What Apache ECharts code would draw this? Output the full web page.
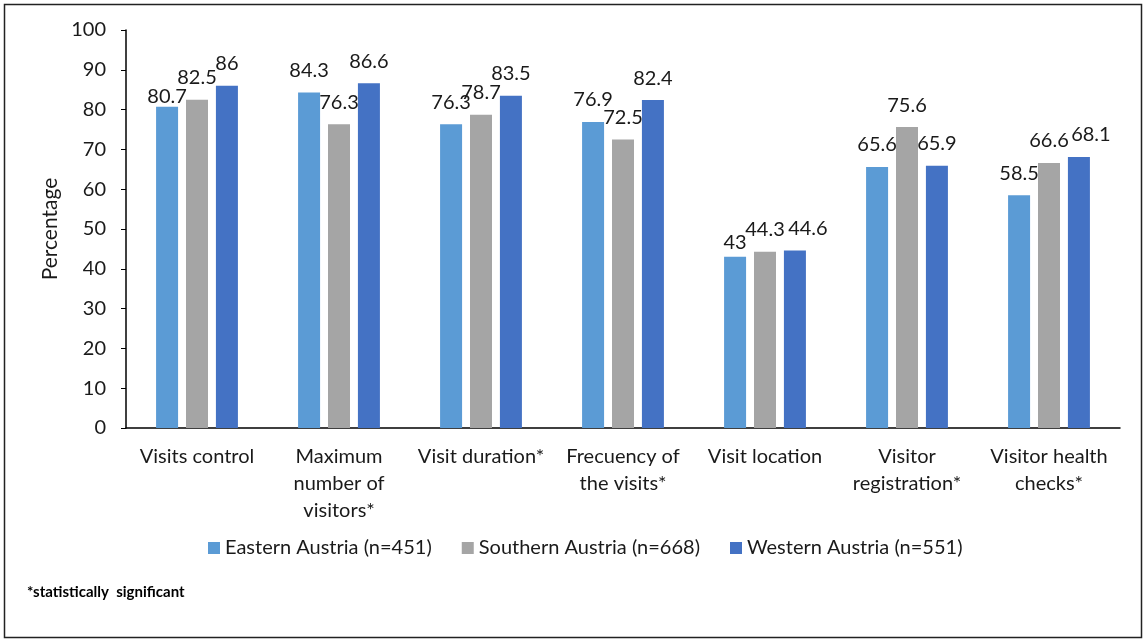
<!DOCTYPE html>
<html><head><meta charset="utf-8">
<script src="https://cdn.jsdelivr.net/npm/echarts@6/dist/echarts.min.js"></script>
<style>html,body{margin:0;padding:0;background:#fff}#c{width:1147px;height:639px}</style>
</head><body><div id="c"></div>
<script>
const categories = ["Visits control", "Maximum\nnumber of\nvisitors*", "Visit duration*", "Frecuency of\nthe visits*", "Visit location", "Visitor\nregistration*", "Visitor health\nchecks*"];
const eastern = [80.7, 84.3, 76.3, 76.9, 43, 65.6, 58.5];
const southern = [82.5, 76.3, 78.7, 72.5, 44.3, 75.6, 66.6];
const western = [86, 86.6, 83.5, 82.4, 44.6, 65.9, 68.1];
const seriesNames = ["Eastern Austria (n=451)", "Southern Austria (n=668)", "Western Austria (n=551)"];
const yTicks = {min: 0, max: 100, interval: 10};

// label nudges (like the reference's overlap-avoiding label placement): [series, index, dx, dy]
const labelNudges = [[0, 0, 0, 12], [0, 4, 0, 8], [2, 4, 13, 0], [2, 6, 12, 0]];

const FONT = "Lato";
const TXT = '#1a1a1a';
const chart = echarts.init(document.getElementById('c'), null, {renderer: 'canvas'});
const lbl = {show: true, position: 'top', distance: 12, color: TXT, fontSize: 20, fontFamily: FONT};
function mk(si, data, color) {
  const items = data.map((v, i) => {
    const n = labelNudges.find(a => a[0] === si && a[1] === i);
    return n ? {value: v, label: {offset: [n[2], n[3]]}} : v;
  });
  return {name: seriesNames[si], type: 'bar', data: items, barWidth: 22, barGap: '36%', itemStyle: {color}, label: lbl};
}
chart.setOption({
  animation: false,
  textStyle: {fontFamily: FONT},
  grid: {left: 126, right: 27, top: 30, bottom: 211, containLabel: false},
  legend: {
    data: seriesNames, top: 533, left: 203, itemWidth: 12, itemHeight: 12, itemGap: 30,
    icon: 'rect', textStyle: {fontSize: 20, color: TXT, fontFamily: FONT}
  },
  xAxis: {
    type: 'category', data: categories,
    axisLine: {lineStyle: {color: '#000', width: 1.5}},
    axisTick: {show: false},
    axisLabel: {fontSize: 20, color: TXT, lineHeight: 27, margin: 15, interval: 0, fontFamily: FONT}
  },
  yAxis: {
    type: 'value', min: yTicks.min, max: yTicks.max, interval: yTicks.interval,
    name: 'Percentage', nameLocation: 'middle', nameGap: 64, nameRotate: 90,
    nameTextStyle: {fontSize: 21, color: TXT, fontFamily: FONT},
    axisLine: {show: true, lineStyle: {color: '#000', width: 1.5}},
    axisTick: {show: true, length: 5, lineStyle: {color: '#000'}},
    splitLine: {show: false},
    axisLabel: {fontSize: 20, color: TXT, margin: 20, fontFamily: FONT}
  },
  graphic: [
    {type: 'rect', shape: {x: 4.5, y: 4.5, width: 1137, height: 633}, style: {fill: null, stroke: '#222', lineWidth: 1.5}, silent: true},
    {type: 'text', left: 27, top: 585, style: {text: '*statistically  significant', font: 'bold 15px ' + FONT, fill: '#000'}}
  ],
  series: [
    mk(0, eastern, '#5B9BD5'),
    mk(1, southern, '#A5A5A5'),
    mk(2, western, '#4472C4')
  ]
});
</script></body></html>
